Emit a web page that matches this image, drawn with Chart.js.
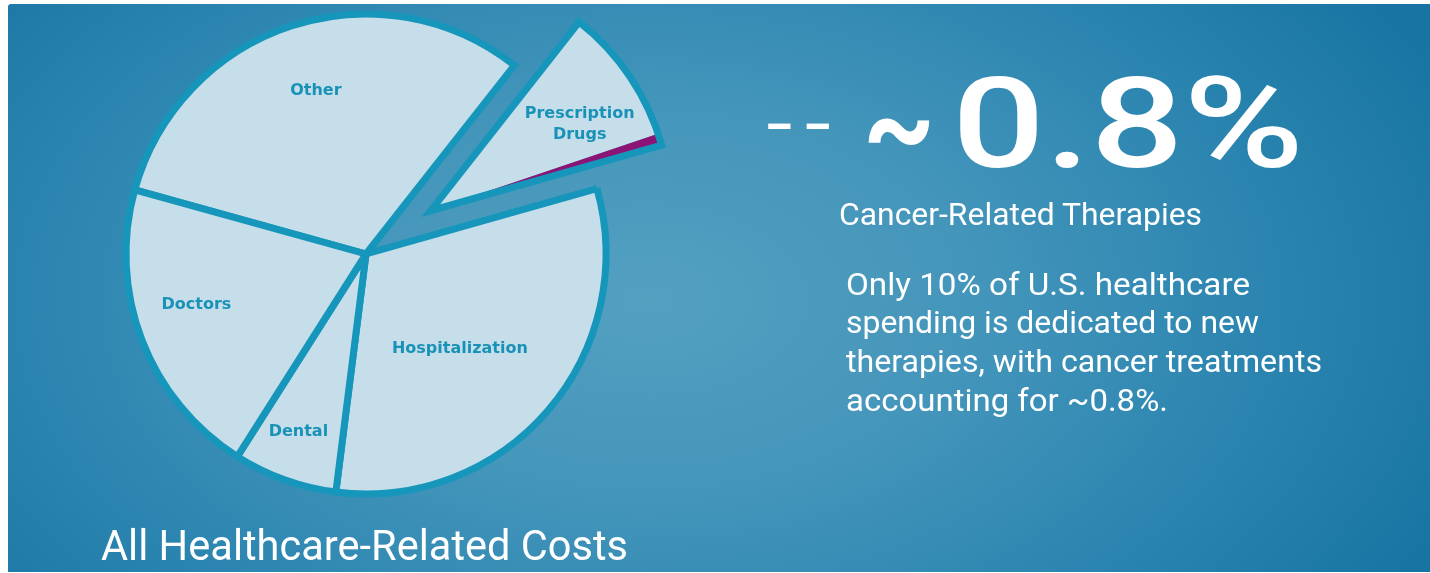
<!DOCTYPE html>
<html>
<head>
<meta charset="utf-8">
<script src="https://cdn.jsdelivr.net/npm/chart.js@4.4.1/dist/chart.umd.min.js"></script>
<style>
  html, body { margin: 0; padding: 0; background: #ffffff; width: 1430px; height: 573px; overflow: hidden; }
  #panel {
    position: absolute; left: 8px; top: 4px; width: 1422px; height: 568px;
    border-top-left-radius: 3px;
    background: radial-gradient(ellipse 62% 95% at 45% 52%, #53a0c1 0%, #4596bb 35%, #2b85b0 70%, #1874a2 100%);
  }
  #wrap { position: absolute; left: 0; top: 0; width: 1430px; height: 573px; }
  .t {
    position: absolute; color: #ffffff; font-family: Roboto, "Open Sans", sans-serif;
    white-space: nowrap; line-height: 1; transform-origin: 0 0;
  }
</style>
</head>
<body>
<div id="panel"></div>
<div id="wrap"><canvas id="pie" width="1430" height="573"></canvas></div>

<div class="t" data-w="527" style="left:101px;top:525px;font-size:42px;">All Healthcare-Related Costs</div>
<div class="t" data-w="66" style="left:765px;top:103px;font-size:48px;font-weight:700;">– –</div>
<div class="t" data-w="72" style="left:863px;top:66px;font-size:120px;font-weight:700;">~</div>
<div class="t" data-w="352" style="left:952px;top:60px;font-size:127px;font-weight:500;">0.8%</div>
<div class="t" data-w="363" style="left:839px;top:198px;font-size:32px;">Cancer-Related Therapies</div>
<div class="t" data-w="404" style="left:846px;top:269px;font-size:31px;">Only 10% of U.S. healthcare</div>
<div class="t" data-w="413" style="left:846px;top:307px;font-size:31px;">spending is dedicated to new</div>
<div class="t" data-w="476" style="left:846px;top:346px;font-size:31px;">therapies, with cancer treatments</div>
<div class="t" data-w="322" style="left:846px;top:385px;font-size:31px;">accounting for ~0.8%.</div>

<script>
// Share of U.S. healthcare spending by category (percent), clockwise from "Other".
const categories = ['Other', 'Prescription Drugs', 'Cancer-Related Therapies', 'Hospitalization', 'Dental', 'Doctors'];
const sharePct   = [31.3, 9.2, 0.8, 31.4, 7, 20.3];
const sliceLabels = [['Other'], ['Prescription', 'Drugs'], [], ['Hospitalization'], ['Dental'], ['Doctors']];
// Slices pulled out of the pie together (prescription drugs incl. cancer therapies).
const explodedSlices = [1, 2];

const FILL = '#c6dee9';
const EDGE = '#1796bb';
const ACCENT = '#8c1477';
const LABEL = '#1992b8';
const EDGE_W = 7;

// label placement: fraction of radius and angular nudge (deg) from slice middle
const labelPlace = [
  { r: 0.72, da: 1.3 },
  { r: 0.72, da: 3.3 },
  null,
  { r: 0.55, da: 4.0 },
  { r: 0.785, da: 1.2 },
  { r: 0.735, da: 5.0 }
];

const explodePlugin = {
  id: 'explodeGroup',
  beforeDatasetDraw(chart, args, opts) {
    const ctx = chart.ctx;
    const arcs = args.meta.data;
    const group = opts.indices;
    const first = arcs[group[0]];
    const last = arcs[group[group.length - 1]];
    const mid = (first.startAngle + last.endAngle) / 2;
    const dx = Math.cos(mid) * opts.distance;
    const dy = Math.sin(mid) * opts.distance;

    ctx.save();
    ctx.miterLimit = 3;
    arcs.forEach((arc, i) => { if (!group.includes(i)) arc.draw(ctx, chart.chartArea); });
    ctx.restore();

    ctx.save();
    ctx.translate(dx, dy);
    group.forEach(i => arcs[i].draw(ctx, chart.chartArea));
    ctx.beginPath();
    ctx.moveTo(first.x, first.y);
    ctx.arc(first.x, first.y, first.outerRadius, first.startAngle, last.endAngle);
    ctx.closePath();
    ctx.lineWidth = EDGE_W;
    ctx.strokeStyle = EDGE;
    ctx.lineJoin = 'miter';
    ctx.miterLimit = 10;
    ctx.stroke();
    ctx.restore();

    // slice captions
    ctx.save();
    ctx.fillStyle = LABEL;
    ctx.font = 'bold 16px "DejaVu Sans", Verdana, sans-serif';
    ctx.textAlign = 'center';
    ctx.textBaseline = 'middle';
    arcs.forEach((arc, i) => {
      const lines = sliceLabels[i];
      const place = labelPlace[i];
      if (!lines.length || !place) return;
      let a0 = arc.startAngle, a1 = arc.endAngle, ox = 0, oy = 0;
      if (group.includes(i)) { a0 = first.startAngle; a1 = last.endAngle; ox = dx; oy = dy; }
      const a = (a0 + a1) / 2 + place.da * Math.PI / 180;
      const rr = arc.outerRadius * place.r;
      const cx = arc.x + ox + Math.cos(a) * rr;
      const cy = arc.y + oy + Math.sin(a) * rr + 2;
      const lh = 21;
      lines.forEach((ln, k) => {
        ctx.fillText(ln, cx, cy + (k - (lines.length - 1) / 2) * lh);
      });
    });
    ctx.restore();
    return false;
  }
};

new Chart(document.getElementById('pie'), {
  type: 'pie',
  data: {
    labels: categories,
    datasets: [{
      data: sharePct,
      radius: 240,
      backgroundColor: categories.map((c, i) => i === 2 ? ACCENT : FILL),
      borderColor: EDGE,
      borderWidth: categories.map((c, i) => explodedSlices.includes(i) ? 0 : EDGE_W),
      borderJoinStyle: 'miter'
    }]
  },
  options: {
    responsive: false,
    animation: false,
    rotation: -74.5,
    layout: { padding: { left: 0, top: 0, right: 698, bottom: 65 } },
    events: [],
    plugins: {
      legend: { display: false },
      tooltip: { enabled: false },
      explodeGroup: { indices: explodedSlices, distance: 78 }
    }
  },
  plugins: [explodePlugin]
});

function fitText() {
  document.querySelectorAll('[data-w]').forEach(el => {
    el.style.transform = 'none';
    const w = el.getBoundingClientRect().width;
    el.style.transform = 'scaleX(' + (parseFloat(el.dataset.w) / w) + ')';
  });
}
fitText();
if (document.fonts && document.fonts.ready) document.fonts.ready.then(fitText);
</script>
</body>
</html>
